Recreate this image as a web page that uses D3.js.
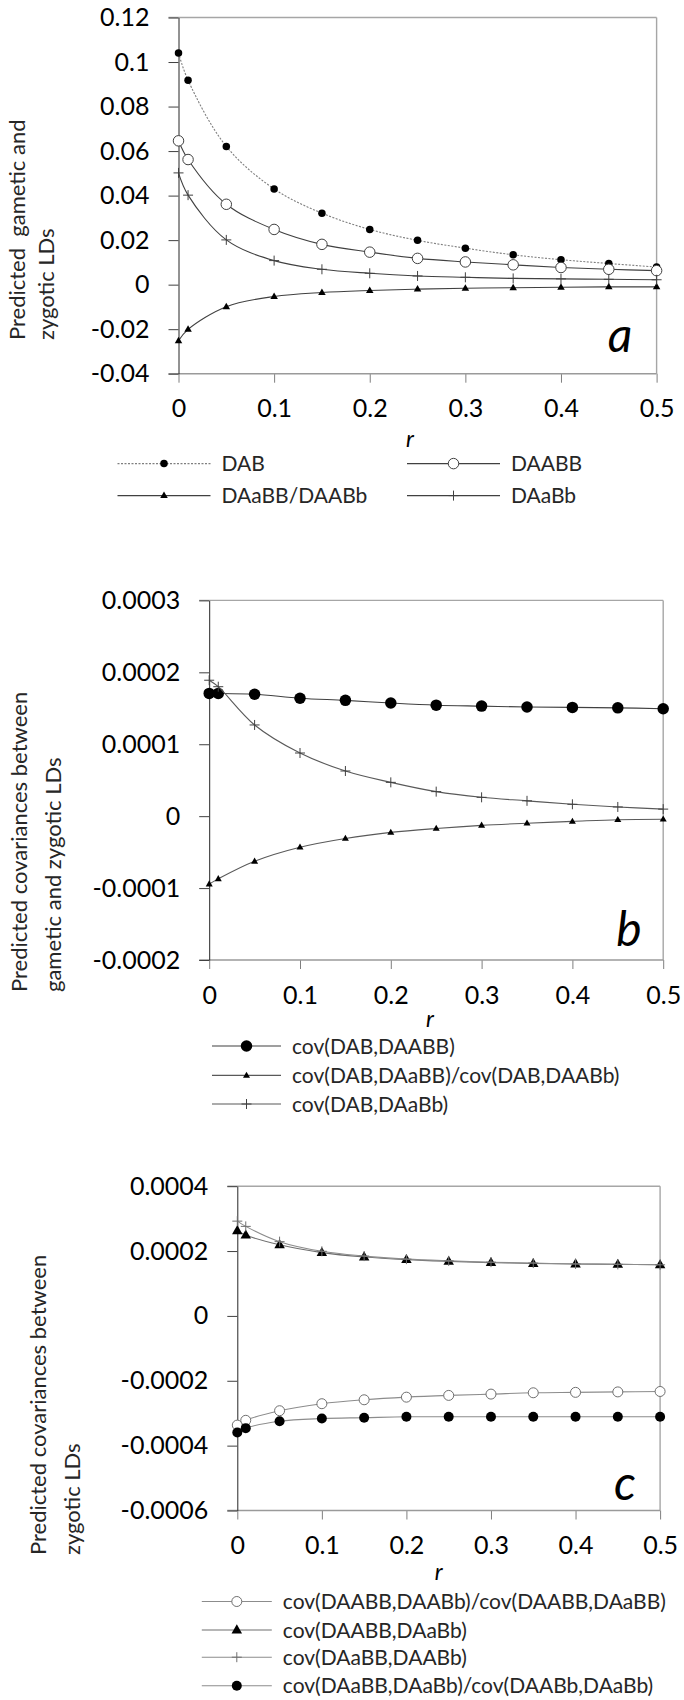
<!DOCTYPE html>
<html>
<head>
<meta charset="utf-8">
<script src="https://cdn.jsdelivr.net/npm/d3@7"></script>
<style>
  body { margin: 0; background: #fff; }
  svg { display: block; font-family: Lato, "Open Sans", sans-serif; }
</style>
</head>
<body>
<svg id="chart"></svg>
<script>
const width = 684;
const height = 1700;

// recombination fraction (x values shared by every series)
const rValues = [0, 0.01, 0.05, 0.1, 0.15, 0.2, 0.25, 0.3, 0.35, 0.4, 0.45, 0.5];
const xTicks = [0, 0.1, 0.2, 0.3, 0.4, 0.5];

// panel a
const aTicks = [-0.04, -0.02, 0, 0.02, 0.04, 0.06, 0.08, 0.1, 0.12];
const aDAB = [0.104, 0.0918, 0.0621, 0.0430, 0.0321, 0.0248, 0.0199, 0.0164, 0.0134, 0.0112, 0.0095, 0.0079];
const aDAABB = [0.0646, 0.0562, 0.0361, 0.0248, 0.0181, 0.0146, 0.0118, 0.0102, 0.0089, 0.0077, 0.0069, 0.0063];
const aDAaBB = [-0.0252, -0.0201, -0.0099, -0.0053, -0.0035, -0.0026, -0.0020, -0.0016, -0.0014, -0.0012, -0.0010, -0.0010];
const aDAaBb = [0.0502, 0.0402, 0.0201, 0.0108, 0.0069, 0.0051, 0.0039, 0.0033, 0.0028, 0.0026, 0.0024, 0.0022];

// panel b
const bTicks = [-0.0002, -0.0001, 0, 0.0001, 0.0002, 0.0003];
const bCovDAABB = [0.0001707, 0.0001707, 0.0001695, 0.000164, 0.000161, 0.0001573, 0.0001543, 0.000153, 0.0001518, 0.0001512, 0.0001506, 0.0001494];
const bCovDAaBB = [-0.0000945, -0.0000872, -0.0000628, -0.0000433, -0.0000311, -0.0000226, -0.0000171, -0.0000128, -0.0000098, -0.0000073, -0.0000049, -0.0000043];
const bCovDAaBb = [0.000189, 0.00018, 0.0001268, 0.0000878, 0.0000628, 0.000047, 0.0000341, 0.0000262, 0.0000213, 0.0000165, 0.0000128, 0.0000098];

// panel c
const cTicks = [-0.0006, -0.0004, -0.0002, 0, 0.0002, 0.0004];
const cAABB_AABb = [-0.0003367, -0.0003219, -0.0002923, -0.0002707, -0.0002586, -0.0002505, -0.0002451, -0.0002411, -0.000237, -0.0002357, -0.0002343, -0.000233];
const cAABB_AaBb = [0.0002626, 0.0002492, 0.0002195, 0.0001953, 0.0001818, 0.0001737, 0.0001684, 0.0001643, 0.0001616, 0.0001603, 0.0001589, 0.0001576];
const cAaBB_AABb = [0.0002923, 0.0002761, 0.000229, 0.0001993, 0.0001845, 0.0001751, 0.0001697, 0.0001657, 0.000163, 0.0001603, 0.0001589, 0.0001576];
const cAaBB_AaBb = [-0.0003596, -0.0003461, -0.0003246, -0.0003165, -0.0003138, -0.0003111, -0.0003111, -0.0003111, -0.0003111, -0.0003111, -0.0003111, -0.0003111];

let svg = d3.select("#chart")
    .attr("width", width)
    .attr("height", height);

function markerPath(type, size) {
    let h = size / 2;
    if (type == "plus") return `M${-h},0H${h}M0,${-h}V${h}`;
    if (type == "triangle") {
        let t = size * 0.866;
        return `M0,${-t * 0.62}L${h},${t * 0.38}L${-h},${t * 0.38}Z`;
    }
    return d3.symbol(d3.symbolCircle, Math.PI * h * h)();
}

function drawMarker(g, m, x, y) {
    g.append("path")
        .attr("d", markerPath(m.type, m.size))
        .attr("transform", `translate(${x},${y})`)
        .attr("fill", m.fill)
        .attr("stroke", m.stroke)
        .attr("stroke-width", 1);
}

function drawPanel(p) {
    let g = svg.append("g");

    let scaleX = d3.scaleLinear().domain([0, 0.5]).range([p.left, p.right]);
    let scaleY = d3.scaleLinear().domain(d3.extent(p.yTicks)).range([p.bottom, p.top]);

    // frame: grey top, right and bottom, darker vertical axis
    g.append("line")
        .attr("x1", p.left - 10).attr("x2", p.right)
        .attr("y1", p.top).attr("y2", p.top)
        .attr("stroke", "#a6a6a6").attr("stroke-width", 1.4);
    g.append("line")
        .attr("x1", p.right).attr("x2", p.right)
        .attr("y1", p.top).attr("y2", p.bottom)
        .attr("stroke", "#a6a6a6").attr("stroke-width", 1.4);

    let axisX = d3.axisBottom(scaleX).tickValues(xTicks).tickSize(9).tickFormat(d => String(d));
    let gx = g.append("g")
        .attr("transform", `translate(0,${p.bottom})`)
        .call(axisX);
    gx.select(".domain").remove();
    gx.append("line")
        .attr("x1", p.left - 10).attr("x2", p.right)
        .attr("stroke", "#9a9a9a").attr("stroke-width", 1.4);
    gx.selectAll(".tick line").attr("stroke", "#7f7f7f");
    gx.selectAll(".tick text")
        .attr("y", 26)
        .attr("fill", "#000")
        .style("font-size", "25px")
        .style("font-family", "Lato, 'Open Sans', sans-serif");

    let axisY = d3.axisLeft(scaleY).tickValues(p.yTicks).tickSize(10).tickSizeOuter(0).tickFormat(d => String(d));
    let gy = g.append("g")
        .attr("transform", `translate(${p.left},0)`)
        .call(axisY);
    gy.select(".domain").attr("stroke", "#262626");
    gy.selectAll(".tick line").attr("stroke", "#404040");
    gy.selectAll(".tick text")
        .attr("x", -29)
        .attr("fill", "#000")
        .style("font-size", "25px")
        .style("font-family", "Lato, 'Open Sans', sans-serif");

    // series
    p.series.forEach(s => {
        let pts = rValues.map((r, i) => [scaleX(r), scaleY(s.values[i])]);
        let line = d3.line().curve(d3.curveCatmullRom.alpha(0.5));
        g.append("path")
            .attr("d", line(pts))
            .attr("fill", "none")
            .attr("stroke", s.lineColor)
            .attr("stroke-width", 1.1)
            .attr("stroke-dasharray", s.dash || null);
        pts.forEach(pt => drawMarker(g, s.marker, pt[0], pt[1]));
    });

    // axis labels
    g.append("text")
        .attr("x", p.rX).attr("y", p.rY)
        .attr("text-anchor", "middle")
        .style("font-style", "italic")
        .style("font-size", "23px")
        .text("r");

    p.title.forEach((t, i) => {
        g.append("text")
            .attr("transform", `translate(${p.titleX[i]},${p.titleY}) rotate(-90)`)
            .attr("fill", "#262626")
            .style("font-size", "22px")
            .style("white-space", "pre")
            .text(t);
    });

    g.append("text")
        .attr("x", p.tagX).attr("y", p.tagY)
        .attr("text-anchor", "middle")
        .style("font-style", "italic")
        .style("font-size", "48px")
        .text(p.tag);

    // legend
    p.legend.forEach(row => {
        let s = p.series[row.index];
        let lg = g.append("g").attr("transform", `translate(${row.x},${row.y})`);
        lg.append("line")
            .attr("x1", 0).attr("x2", p.legendLine)
            .attr("y1", 0).attr("y2", 0)
            .attr("stroke", s.lineColor)
            .attr("stroke-width", 1.1)
            .attr("stroke-dasharray", s.dash || null);
        drawMarker(lg, s.marker, p.legendLine / 2, 0);
        lg.append("text")
            .attr("x", p.legendLine + 11)
            .attr("y", 7.5)
            .attr("fill", "#262626")
            .style("font-size", "21px")
            .text(s.name);
    });
}

drawPanel({
    left: 178.5, right: 656.6, top: 17.5, bottom: 373.7,
    yTicks: aTicks,
    series: [
        {name: "DAB", values: aDAB, lineColor: "#7f7f7f", dash: "2,1.5", marker: {type: "circle", size: 7.5, fill: "#000", stroke: "none"}},
        {name: "DAABB", values: aDAABB, lineColor: "#404040", marker: {type: "circle", size: 10.5, fill: "#fff", stroke: "#404040"}},
        {name: "DAaBB/DAABb", values: aDAaBB, lineColor: "#404040", marker: {type: "triangle", size: 7.5, fill: "#000", stroke: "none"}},
        {name: "DAaBb", values: aDAaBb, lineColor: "#404040", marker: {type: "plus", size: 10, fill: "none", stroke: "#404040"}}
    ],
    legendLine: 93,
    legend: [
        {index: 0, x: 117.5, y: 463.6},
        {index: 1, x: 407, y: 463.6},
        {index: 2, x: 117.5, y: 495.6},
        {index: 3, x: 407, y: 495.6}
    ],
    rX: 410, rY: 447,
    title: ["Predicted  gametic and", "zygotic LDs"],
    titleX: [25, 54], titleY: 340,
    tag: "a", tagX: 620, tagY: 352
});

drawPanel({
    left: 209.2, right: 663.2, top: 600.4, bottom: 960,
    yTicks: bTicks,
    series: [
        {name: "cov(DAB,DAABB)", values: bCovDAABB, lineColor: "#404040", marker: {type: "circle", size: 11.5, fill: "#000", stroke: "none"}},
        {name: "cov(DAB,DAaBB)/cov(DAB,DAABb)", values: bCovDAaBB, lineColor: "#595959", marker: {type: "triangle", size: 7, fill: "#000", stroke: "none"}},
        {name: "cov(DAB,DAaBb)", values: bCovDAaBb, lineColor: "#595959", marker: {type: "plus", size: 10, fill: "none", stroke: "#404040"}}
    ],
    legendLine: 69,
    legend: [
        {index: 0, x: 212, y: 1046},
        {index: 1, x: 212, y: 1075.4},
        {index: 2, x: 212, y: 1104}
    ],
    rX: 430, rY: 1027,
    title: ["Predicted covariances between", "gametic and zygotic LDs"],
    titleX: [27, 61], titleY: 992,
    tag: "b", tagX: 629, tagY: 946
});

drawPanel({
    left: 237.3, right: 660.1, top: 1186.2, bottom: 1510.5,
    yTicks: cTicks,
    series: [
        {name: "cov(DAABB,DAABb)/cov(DAABB,DAaBB)", values: cAABB_AABb, lineColor: "#8c8c8c", marker: {type: "circle", size: 10, fill: "#fff", stroke: "#6f6f6f"}},
        {name: "cov(DAABB,DAaBb)", values: cAABB_AaBb, lineColor: "#6f6f6f", marker: {type: "triangle", size: 10.5, fill: "#000", stroke: "none"}},
        {name: "cov(DAaBB,DAABb)", values: cAaBB_AABb, lineColor: "#8c8c8c", marker: {type: "plus", size: 10, fill: "none", stroke: "#6f6f6f"}},
        {name: "cov(DAaBB,DAaBb)/cov(DAABb,DAaBb)", values: cAaBB_AaBb, lineColor: "#8c8c8c", marker: {type: "circle", size: 10, fill: "#000", stroke: "none"}}
    ],
    legendLine: 70,
    legend: [
        {index: 0, x: 201.8, y: 1601.5},
        {index: 1, x: 201.8, y: 1630},
        {index: 2, x: 201.8, y: 1657.2},
        {index: 3, x: 201.8, y: 1685.7}
    ],
    rX: 438.6, rY: 1580,
    title: ["Predicted covariances between", "zygotic LDs"],
    titleX: [46, 80], titleY: 1555,
    tag: "c", tagX: 625, tagY: 1500
});
</script>
</body>
</html>
